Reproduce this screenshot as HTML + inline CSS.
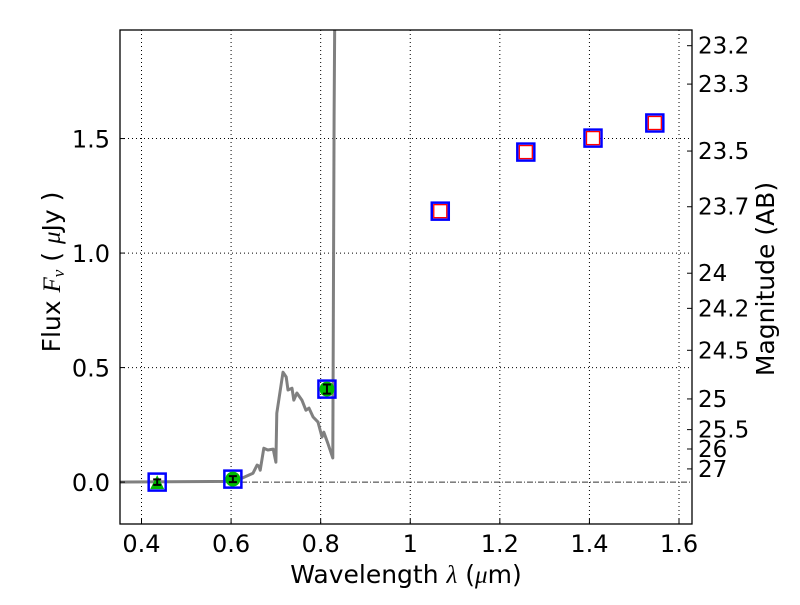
<!DOCTYPE html>
<html><head><meta charset="utf-8"><style>
html,body{margin:0;padding:0;background:#fff;}
svg text{font-family:"DejaVu Sans","Liberation Sans",sans-serif;fill:#000;}
.it{font-family:"Liberation Serif","DejaVu Serif",serif;font-style:italic;}
</style></head><body>
<svg id="chart" width="800" height="600" viewBox="0 0 800 600" xmlns="http://www.w3.org/2000/svg">
<rect width="800" height="600" fill="#fff"/>
<g id="grid"></g>
<g id="marks"></g>
<rect x="120" y="30" width="572" height="494" fill="none" stroke="#000" stroke-width="1.3"/>
<g id="ticks"></g>
<text x="406" y="583" font-size="25" text-anchor="middle">Wavelength  <tspan class="it">λ</tspan> (<tspan class="it">μ</tspan>m)</text>
<text transform="translate(60,272) rotate(-90)" font-size="25" text-anchor="middle">Flux  <tspan class="it">F</tspan><tspan class="it" font-size="17" dy="4">ν</tspan><tspan dy="-4">  ( </tspan><tspan class="it">μ</tspan>Jy )</text>
<text transform="translate(774,279) rotate(-90)" font-size="25" text-anchor="middle">Magnitude (AB)</text>
</svg>
<script>
const xTicks=[0.4,0.6,0.8,1.0,1.2,1.4,1.6];
const xTickLabels=["0.4","0.6","0.8","1","1.2","1.4","1.6"];
const yTicks=[0,0.5,1.0,1.5];
const yTickLabels=["0.0","0.5","1.0","1.5"];
const magTicks=[23.2,23.3,23.5,23.7,24,24.2,24.5,25,25.5,26,27];
const modelWave=[0.35,0.6,0.624,0.649,0.658,0.662,0.665,0.673,0.682,0.694,0.700,0.702,0.716,0.723,0.727,0.736,0.740,0.747,0.758,0.767,0.774,0.783,0.794,0.803,0.807,0.816,0.827,0.830,0.832];
const modelFlux=[0,0.003,0.017,0.039,0.074,0.07,0.052,0.148,0.14,0.144,0.087,0.301,0.48,0.459,0.402,0.41,0.358,0.389,0.358,0.314,0.323,0.284,0.262,0.197,0.218,0.17,0.105,1.6,2.2];
const detWave=[0.435,0.604,0.814];
const detFlux=[0.0,0.013,0.406];
const detErr=[0.012,0.013,0.02];
const predWave=[1.067,1.258,1.408,1.546];
const predFlux=[1.183,1.441,1.502,1.568];

const X0=120,X1=692,Y0=30,Y1=524;
const xmin=0.352,xmax=1.629,ymin=-0.183,ymax=1.974;
const sx=v=>X0+(v-xmin)/(xmax-xmin)*(X1-X0);
const sy=v=>Y1-(v-ymin)/(ymax-ymin)*(Y1-Y0);
const NS="http://www.w3.org/2000/svg";
function mk(tag,attrs,parent){const e=document.createElementNS(NS,tag);for(const k in attrs)e.setAttribute(k,attrs[k]);parent.appendChild(e);return e;}
const grid=document.getElementById('grid'),marks=document.getElementById('marks'),ticks=document.getElementById('ticks');

xTicks.forEach((v,i)=>{
  const g=mk('line',{x1:sx(v),x2:sx(v),y1:Y0,y2:Y1,stroke:'#000','stroke-width':1,'stroke-dasharray':'1,3'},grid);
  
  
  const t=mk('line',{x1:sx(v),x2:sx(v),y1:Y1,y2:Y1-5,stroke:'#000'},ticks);
  
  
  const l=mk('text',{x:sx(v),y:Y1+28,'font-size':24,'text-anchor':'middle'},ticks);
  l.textContent=xTickLabels[i];
  
  
});
yTicks.forEach((v,i)=>{
  if(v!==0){
  const g=mk('line',{x1:X0,x2:X1,y1:sy(v),y2:sy(v),stroke:'#000','stroke-width':1,'stroke-dasharray':'1,3'},grid);
  
  }
  const t=mk('line',{x1:X0,x2:X0+5,y1:sy(v),y2:sy(v),stroke:'#000'},ticks);
  
  
  const l=mk('text',{x:X0-10,y:sy(v)+9,'font-size':24,'text-anchor':'end'},ticks);
  l.textContent=yTickLabels[i];
  
  
});
magTicks.forEach(m=>{
  const f=Math.pow(10,(23.9-m)/2.5);const y=sy(f);
  const t=mk('line',{x1:X1,x2:X1-5,y1:y,y2:y,stroke:'#000'},ticks);
  
  
  const l=mk('text',{x:X1+6,y:y+8,'font-size':23},ticks);
  l.textContent=String(m);
  
  
});
const zl=mk('line',{x1:X0,x2:X1,y1:sy(0),y2:sy(0),stroke:'#333','stroke-width':1,'stroke-dasharray':'6,2,1,2'},grid);



const clip=mk('clipPath',{id:'pc'},document.getElementById('chart'));
mk('rect',{x:X0,y:Y0,width:X1-X0,height:Y1-Y0},clip);
const pts=modelWave.map((w,i)=>sx(w).toFixed(1)+','+sy(modelFlux[i]).toFixed(1)).join(' ');
const pl=mk('polyline',{points:pts,fill:'none',stroke:'#808080','stroke-width':3,'clip-path':'url(#pc)','stroke-linejoin':'round'},marks);



detWave.forEach((w,i)=>{
  const x=sx(w),y=sy(detFlux[i]);
  const b=mk('rect',{x:x-8.5,y:y-8.5,width:17,height:17,fill:'none',stroke:'#0000ff','stroke-width':2.5},marks);
  
  
  let m;
  if(i===0){m=mk('polygon',{points:`${x},${y-7} ${x-7},${y+7} ${x+7},${y+7}`,fill:'#00bb00'},marks);}
  else{m=mk('circle',{cx:x,cy:y,r:7.5,fill:'#00bb00'},marks);}
  
  
  const e=sy(detFlux[i]-detErr[i])-y;
  const eb=mk('path',{d:`M${x},${y-e}V${y+e}M${x-4},${y-e}H${x+4}M${x-4},${y+e}H${x+4}`,stroke:'#000','stroke-width':2,fill:'none'},marks);
  
  
});
predWave.forEach((w,i)=>{
  const x=sx(w),y=sy(predFlux[i]);
  const b=mk('rect',{x:x-8.5,y:y-8.5,width:17,height:17,fill:'none',stroke:'#0000ff','stroke-width':2.5},marks);
  
  
  const r=mk('rect',{x:x-6.5,y:y-6.5,width:13,height:13,fill:'#fff',stroke:'#ff0000','stroke-width':1.3},marks);
  
  
});
</script>
</body></html>
